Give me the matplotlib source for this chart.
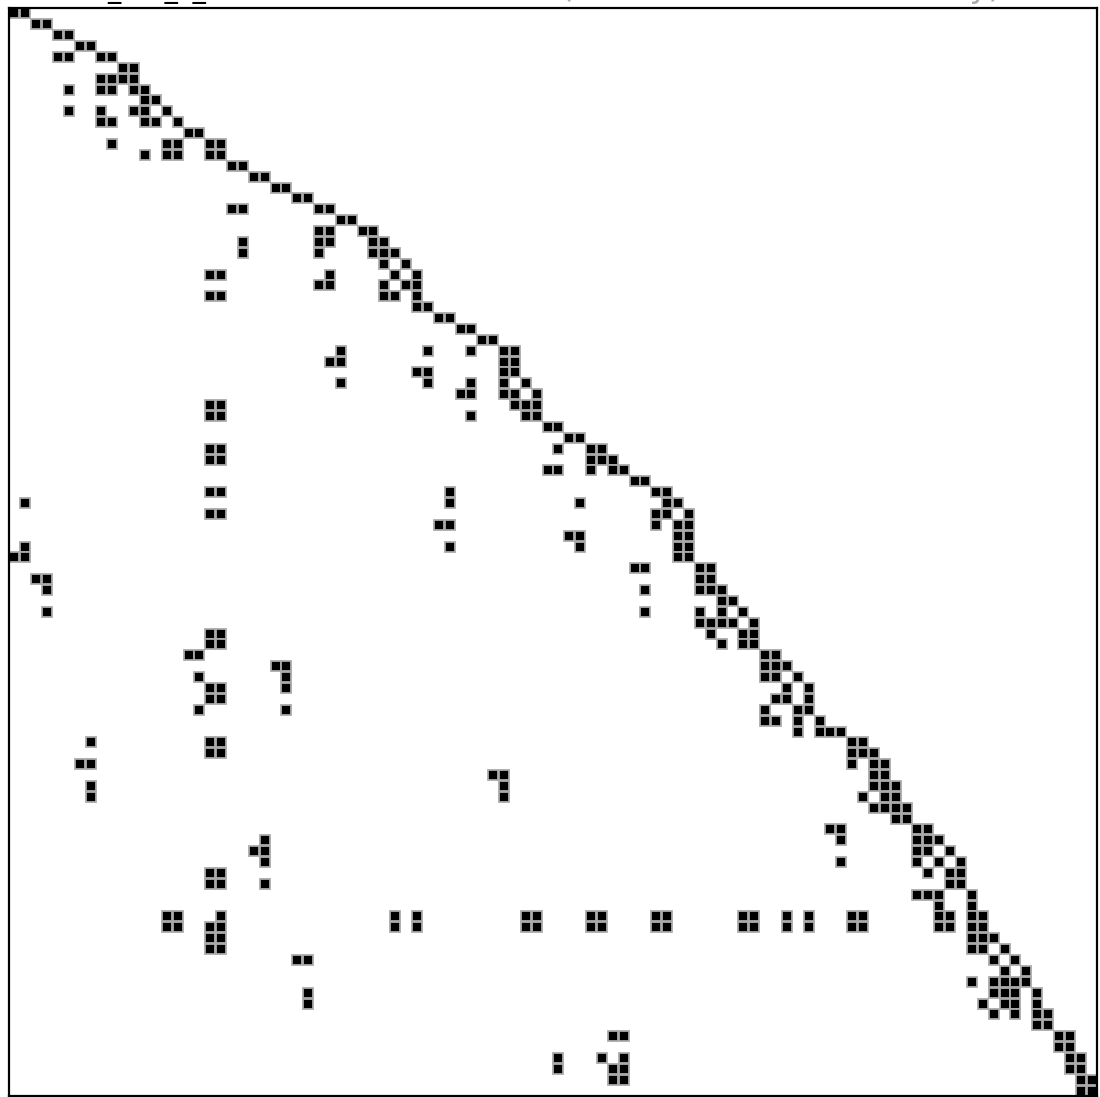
import matplotlib
matplotlib.use("Agg")
import matplotlib.pyplot as plt

# Sparsity pattern: row index -> list of nonzero column indices (100 x 100 matrix)
n_rows = 100
n_cols = 100
rows_nz = {
    0: [0, 1], 1: [2, 3], 2: [4, 5], 3: [6, 7], 4: [4, 5, 8, 9],
    5: [10, 11], 6: [8, 9, 10, 11], 7: [5, 8, 9, 11, 12], 8: [12, 13],
    9: [5, 8, 11, 12, 14], 10: [8, 9, 12, 13, 15], 11: [16, 17],
    12: [9, 14, 15, 18, 19], 13: [12, 14, 15, 18, 19], 14: [20, 21],
    15: [22, 23], 16: [24, 25], 17: [26, 27], 18: [20, 21, 28, 29],
    19: [30, 31], 20: [28, 29, 32, 33], 21: [21, 28, 29, 33, 34],
    22: [21, 28, 33, 34, 35], 23: [34, 36], 24: [18, 19, 29, 35, 37],
    25: [28, 29, 34, 36, 37], 26: [18, 19, 34, 35, 37], 27: [37, 38],
    28: [39, 40], 29: [41, 42], 30: [43, 44], 31: [30, 38, 42, 45, 46],
    32: [29, 30, 45, 46], 33: [37, 38, 45, 46], 34: [30, 38, 42, 45, 47],
    35: [41, 42, 45, 46, 48], 36: [18, 19, 46, 47, 48], 37: [18, 19, 42, 47, 48],
    38: [49, 50], 39: [51, 52], 40: [18, 19, 50, 53, 54], 41: [18, 19, 53, 54, 55],
    42: [49, 50, 53, 55, 56], 43: [57, 58], 44: [18, 19, 40, 59, 60],
    45: [1, 40, 52, 60, 61], 46: [18, 19, 59, 60, 62], 47: [39, 40, 59, 61, 62],
    48: [51, 52, 61, 62], 49: [1, 40, 52, 61, 62], 50: [0, 1, 61, 62],
    51: [57, 58, 63, 64], 52: [2, 3, 63, 64], 53: [3, 58, 63, 64, 65],
    54: [65, 66], 55: [3, 58, 63, 65, 67], 56: [63, 64, 65, 66, 68],
    57: [18, 19, 64, 67, 68], 58: [18, 19, 65, 67, 68], 59: [16, 17, 69, 70],
    60: [24, 25, 69, 70, 71], 61: [17, 25, 69, 70, 72], 62: [18, 19, 25, 71, 73],
    63: [18, 19, 70, 71, 73], 64: [17, 25, 69, 72, 73], 65: [69, 70, 72, 74],
    66: [72, 74, 75, 76], 67: [7, 18, 19, 77, 78], 68: [18, 19, 77, 78, 79],
    69: [6, 7, 77, 79, 80], 70: [44, 45, 79, 80], 71: [7, 45, 79, 80, 81],
    72: [7, 45, 78, 80, 81], 73: [79, 80, 81, 82], 74: [81, 82],
    75: [75, 76, 83, 84], 76: [23, 76, 83, 84, 85], 77: [22, 23, 83, 84, 86],
    78: [23, 76, 83, 85, 87], 79: [18, 19, 84, 86, 87], 80: [18, 19, 23, 86, 87],
    81: [83, 84, 85, 88], 82: [85, 88],
    83: [14, 15, 19, 35, 37, 47, 48, 53, 54, 59, 60, 67, 68, 71, 73, 77, 78, 85, 86, 88, 89],
    84: [14, 15, 18, 19, 35, 37, 47, 48, 53, 54, 59, 60, 67, 68, 71, 73, 77, 78, 85, 86, 88, 89],
    85: [18, 19, 88, 89, 90], 86: [18, 19, 88, 89, 91], 87: [26, 27, 90, 92],
    88: [91, 93], 89: [88, 90, 91, 92, 93], 90: [27, 90, 91, 92, 94],
    91: [27, 89, 91, 92, 94], 92: [90, 92, 94, 95], 93: [94, 95],
    94: [55, 56, 96, 97], 95: [96, 97], 96: [50, 54, 56, 97, 98],
    97: [50, 55, 56, 97, 98], 98: [55, 56, 98, 99], 99: [98, 99],
}

title_text = "node_ord_L_"
subtitle_text = "(100 \u00d7 100 lower half only)"

rr, cc = [], []
for r, cols in rows_nz.items():
    for c in cols:
        rr.append(r)
        cc.append(c)

W, H = 1100, 1097
fig = plt.figure(figsize=(W / 100, H / 100), dpi=100)
x0, x1 = 9.0, 1097.0
y0, y1 = 8.0, 1096.0
ax = fig.add_axes([x0 / W, 1 - y1 / H, (x1 - x0) / W, (y1 - y0) / H])

ax.plot(cc, rr, linestyle="none", marker="s", markersize=6.9,
        markerfacecolor="black", markeredgecolor="#aaaaaa",
        markeredgewidth=1.3, clip_on=True)
ax.set_xlim(-0.5, n_cols - 0.5)
ax.set_ylim(n_rows - 0.5, -0.5)
ax.set_xticks([])
ax.set_yticks([])
for s in ax.spines.values():
    s.set_linewidth(1.6)
    s.set_color("black")

fig.text(43 / W, 1 + 1.5 / H, title_text, fontsize=19, color="black",
         ha="left", va="baseline")
fig.text(561 / W, 1 + 3.5 / H, subtitle_text, fontsize=23, color="#aaaaaa",
         ha="left", va="baseline")

fig.savefig("out.png", dpi=100)
